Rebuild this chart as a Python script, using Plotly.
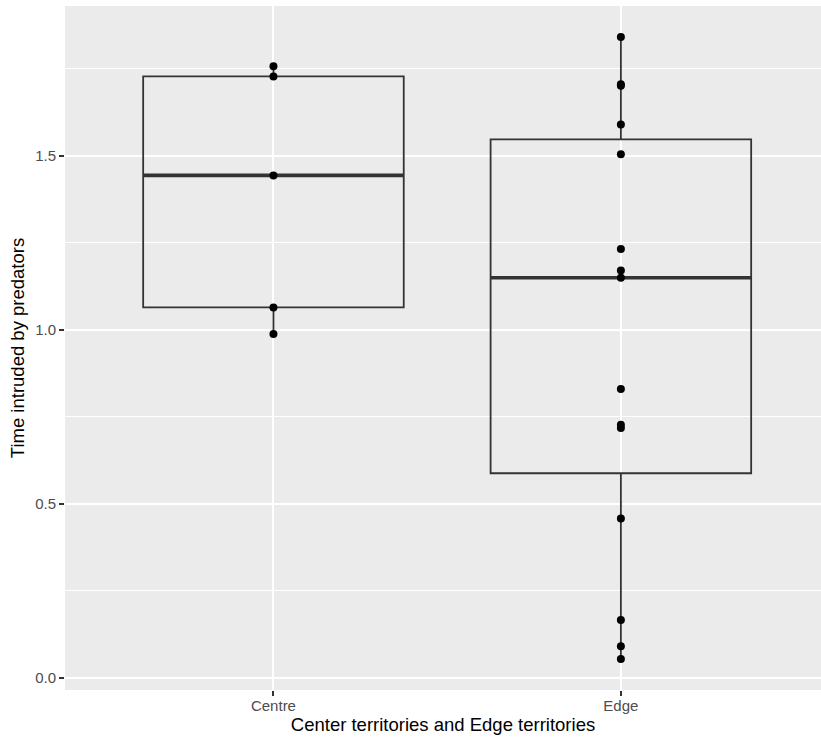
import numpy as np
import plotly.graph_objects as go

categories = ["Centre", "Edge"]
centre_values = [1.756, 1.727, 1.443, 1.064, 0.988]
edge_values = [1.840, 1.705, 1.700, 1.589, 1.504, 1.232, 1.170, 1.149,
               0.830, 0.727, 0.718, 0.458, 0.167, 0.091, 0.055]
y_ticks = [0.0, 0.5, 1.0, 1.5]
y_tick_labels = ["0.0", "0.5", "1.0", "1.5"]
y_minor = [0.25, 0.75, 1.25, 1.75]

groups = [centre_values, edge_values]
line_col = "#333333"
half_w = 0.375

fig = go.Figure()
for i, (cat, vals) in enumerate(zip(categories, groups)):
    xpos = i + 1
    v = np.array(vals)
    q1, med, q3 = np.percentile(v, [25, 50, 75])
    iqr = q3 - q1
    lo = v[v >= q1 - 1.5 * iqr].min()
    hi = v[v <= q3 + 1.5 * iqr].max()
    fig.add_trace(go.Box(
        x=[xpos], q1=[q1], median=[med], q3=[q3], lowerfence=[lo], upperfence=[hi],
        name=cat, boxpoints=False,
        fillcolor="rgba(0,0,0,0)", line=dict(color=line_col, width=1.8),
        whiskerwidth=0, width=2 * half_w, showlegend=False, hoverinfo="skip",
    ))
    fig.add_trace(go.Scatter(
        x=[xpos - half_w, xpos + half_w], y=[med, med], mode="lines",
        line=dict(color=line_col, width=3.6), showlegend=False, hoverinfo="skip",
    ))
    fig.add_trace(go.Scatter(
        x=[xpos] * len(vals), y=vals, mode="markers",
        marker=dict(color="black", size=8), showlegend=False,
    ))

fig.update_layout(
    width=821, height=742,
    margin=dict(l=65, r=0, t=6, b=52),
    paper_bgcolor="white", plot_bgcolor="#EBEBEB",
    font=dict(family="Liberation Sans, Arial, sans-serif", color="black"),
)
fig.update_xaxes(
    range=[0.4, 2.576], tickmode="array", tickvals=[1, 2], ticktext=categories,
    showgrid=True, gridcolor="white", gridwidth=2, zeroline=False,
    ticks="outside", ticklen=5, tickcolor=line_col, tickwidth=1.8,
    tickfont=dict(size=15, color="#4D4D4D"), automargin=False, ticklabelstandoff=-3,
    title=dict(text="Center territories and Edge territories", font=dict(size=18.5, color="black"), standoff=0),
    showline=False,
)
fig.update_yaxes(
    range=[-0.0343, 1.9293], tickmode="array", tickvals=y_ticks, ticktext=y_tick_labels,
    showgrid=True, gridcolor="white", gridwidth=2, zeroline=False,
    ticks="outside", ticklen=5, tickcolor=line_col, tickwidth=1.8,
    tickfont=dict(size=15, color="#4D4D4D"), automargin=False,
    minor=dict(tickmode="array", tickvals=y_minor, showgrid=True,
               gridcolor="white", gridwidth=1, ticks=""),
    title=dict(text="Time intruded by predators", font=dict(size=18.5, color="black"), standoff=5),
    showline=False,
)

fig.write_html("out.html", config={"displayModeBar": False},
               post_script="document.body.style.margin='0';")
